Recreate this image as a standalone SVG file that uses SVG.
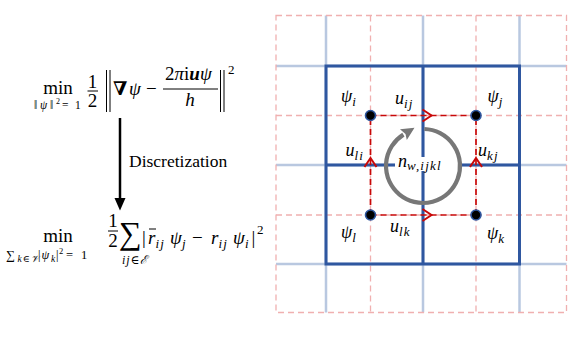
<svg xmlns="http://www.w3.org/2000/svg" width="582" height="339" viewBox="0 0 582 339">
<defs>
<style>
text{font-family:'Liberation Serif','Times New Roman','DejaVu Serif',serif;fill:#000}
.it{font-style:italic}
.sb{font-size:13px;letter-spacing:1.2px}
.lb{stroke:#b9c8e0;stroke-width:2.5;fill:none}
.pk{stroke:#f0b0b0;stroke-width:1.3;stroke-dasharray:6 4;fill:none}
.db{stroke:#2f57a0;stroke-width:3;fill:none}
.rd{stroke:#c80808;stroke-width:1.7;stroke-dasharray:6 4;fill:none;marker-mid:url(#ra)}
.bar{stroke:#000;stroke-width:1}
.node{fill:#000;stroke:#2f57a0;stroke-width:1.6}
</style>
<marker id="ra" markerUnits="userSpaceOnUse" markerWidth="16" markerHeight="16" refX="11" refY="8" orient="auto" overflow="visible">
<path d="M2,2 L11,8 L2,14" fill="none" stroke="#c80808" stroke-width="2"/>
</marker>
</defs>
<rect width="582" height="339" fill="#fff"/>

<g id="formula-top">
<text x="58" y="93.5" text-anchor="middle" font-size="19">min</text>
<text y="108.5" font-size="11.5"><tspan x="34">‖</tspan><tspan x="40" class="it">ψ</tspan><tspan x="50">‖</tspan><tspan x="56" y="103.5" font-size="8">2</tspan><tspan x="62" y="108.5">=</tspan><tspan x="75">1</tspan></text>
<text x="92.5" y="88" text-anchor="middle" font-size="19">1</text>
<line class="bar" x1="87.5" y1="91" x2="98" y2="91"/>
<text x="92.5" y="107" text-anchor="middle" font-size="19">2</text>
<line class="bar" x1="106.5" y1="70" x2="106.5" y2="112"/>
<line class="bar" x1="110" y1="70" x2="110" y2="112"/>
<text y="95" font-size="19"><tspan x="113" font-weight="bold">∇</tspan><tspan x="129" class="it">ψ</tspan><tspan x="146">−</tspan></text>
<text y="80" font-size="19"><tspan x="165">2</tspan><tspan class="it">π</tspan><tspan>i</tspan><tspan class="it" font-weight="bold">u</tspan><tspan class="it">ψ</tspan></text>
<line class="bar" x1="163" y1="89" x2="218" y2="89"/>
<text x="190" y="106" text-anchor="middle" font-size="19" class="it">h</text>
<line class="bar" x1="220.5" y1="70" x2="220.5" y2="112"/>
<line class="bar" x1="224" y1="70" x2="224" y2="112"/>
<text x="228" y="74" font-size="13">2</text>
</g>

<g id="discretization">
<line x1="120" y1="118" x2="120" y2="200" stroke="#000" stroke-width="2.5"/>
<polygon points="114.5,198 125.5,198 120,210.5" fill="#000"/>
<text x="129" y="167" font-size="17.5">Discretization</text>
</g>

<g id="formula-bottom">
<text x="58" y="242" text-anchor="middle" font-size="19">min</text>
<text y="259" font-size="12.5"><tspan x="6">∑</tspan><tspan x="17.5" y="262" font-size="9.5" class="it">k</tspan><tspan font-size="9.5" dx="1">∈</tspan><tspan font-size="9.5" class="it" dx="1">𝒱</tspan><tspan x="38" y="259">|</tspan><tspan x="41.5" class="it">ψ</tspan><tspan x="51" y="262" font-size="9.5" class="it">k</tspan><tspan x="56" y="259">|</tspan><tspan x="59" y="254" font-size="8.5">2</tspan><tspan x="66" y="259">=</tspan><tspan x="81">1</tspan></text>
<text x="113" y="227" text-anchor="middle" font-size="19">1</text>
<line class="bar" x1="108" y1="231" x2="118" y2="231"/>
<text x="113" y="247" text-anchor="middle" font-size="19">2</text>
<text x="119" y="244" font-size="32">∑</text>
<text y="264" font-size="12"><tspan x="122" class="it" letter-spacing="1">ij</tspan><tspan>∈</tspan><tspan class="it">ℰ</tspan></text>
<text y="244" font-size="19"><tspan x="142">|</tspan><tspan x="148" class="it">r</tspan><tspan x="155.5" y="248" class="it sb">ij</tspan><tspan x="170" y="244" class="it">ψ</tspan><tspan x="182" y="248" class="it sb">j</tspan><tspan x="192" y="244">−</tspan><tspan x="211" class="it">r</tspan><tspan x="218.5" y="248" class="it sb">ij</tspan><tspan x="233" y="244" class="it">ψ</tspan><tspan x="245" y="248" class="it sb">i</tspan><tspan x="251.5" y="244">|</tspan><tspan x="257" y="234" font-size="13">2</tspan></text>
<line class="bar" x1="149" y1="229" x2="156" y2="229"/>
</g>

<g id="grid">
<g id="light-blue">
<line class="lb" x1="326" y1="15.5" x2="326" y2="312.5"/>
<line class="lb" x1="423" y1="15.5" x2="423" y2="312.5"/>
<line class="lb" x1="519.5" y1="15.5" x2="519.5" y2="312.5"/>
<line class="lb" x1="276" y1="66" x2="566.5" y2="66"/>
<line class="lb" x1="276" y1="165" x2="566.5" y2="165"/>
<line class="lb" x1="276" y1="264" x2="566.5" y2="264"/>
</g>
<g id="pink-dashed">
<rect class="pk" x="276" y="15.5" width="290.5" height="297"/>
<line class="pk" x1="370.5" y1="15.5" x2="370.5" y2="312.5"/>
<line class="pk" x1="476" y1="15.5" x2="476" y2="312.5"/>
<line class="pk" x1="276" y1="115.5" x2="566.5" y2="115.5"/>
<line class="pk" x1="276" y1="215" x2="566.5" y2="215"/>
</g>
<g id="dark-blue">
<rect class="db" x="326" y="66" width="193.5" height="198"/>
<line class="db" x1="423" y1="66" x2="423" y2="264"/>
<line class="db" x1="326" y1="165" x2="519.5" y2="165"/>
</g>
</g>

<g id="connectors">
<path id="e-ij" class="rd" d="M370.5,115.5 L431.5,115.5 L476,115.5"/>
<path id="e-lk" class="rd" d="M370.5,215 L431.5,215 L476,215"/>
<path id="e-li" class="rd" d="M370.5,215 L370.5,158 L370.5,115.5"/>
<path id="e-kj" class="rd" d="M476,215 L476,158 L476,115.5"/>
</g>

<g id="winding">
<rect x="395" y="157" width="63" height="14" fill="#fff"/>
<path d="M424.3,129 A37,37 0 1 1 403.4,134.6" fill="none" stroke="#777" stroke-width="4.2"/>
<polygon points="414.5,127.8 400,129.2 405.5,134 406.8,140" fill="#777"/>
<text x="398" y="166.5" class="it" font-size="18">n<tspan class="sb" y="170">w,ijkl</tspan></text>
</g>

<g id="node-i"><circle class="node" cx="370.5" cy="115.5" r="5"/><text x="341" y="102" class="it" font-size="18">ψ<tspan class="sb" y="105.5">i</tspan></text></g>
<g id="node-j"><circle class="node" cx="476" cy="115.5" r="5"/><text x="487.5" y="102" class="it" font-size="18">ψ<tspan class="sb" y="105.5">j</tspan></text></g>
<g id="node-l"><circle class="node" cx="370.5" cy="215" r="5"/><text x="341" y="238" class="it" font-size="18">ψ<tspan class="sb" y="241.5">l</tspan></text></g>
<g id="node-k"><circle class="node" cx="476" cy="215" r="5"/><text x="487" y="239" class="it" font-size="18">ψ<tspan class="sb" y="242.5">k</tspan></text></g>

<g id="edge-labels">
<text x="395" y="104" class="it" font-size="18">u<tspan class="sb" y="107.5">ij</tspan></text>
<text x="345.5" y="156" class="it" font-size="18">u<tspan class="sb" y="159.5">li</tspan></text>
<text x="478" y="156" class="it" font-size="18">u<tspan class="sb" y="159.5">kj</tspan></text>
<text x="390" y="232" class="it" font-size="18">u<tspan class="sb" y="235.5">lk</tspan></text>
</g>
</svg>
